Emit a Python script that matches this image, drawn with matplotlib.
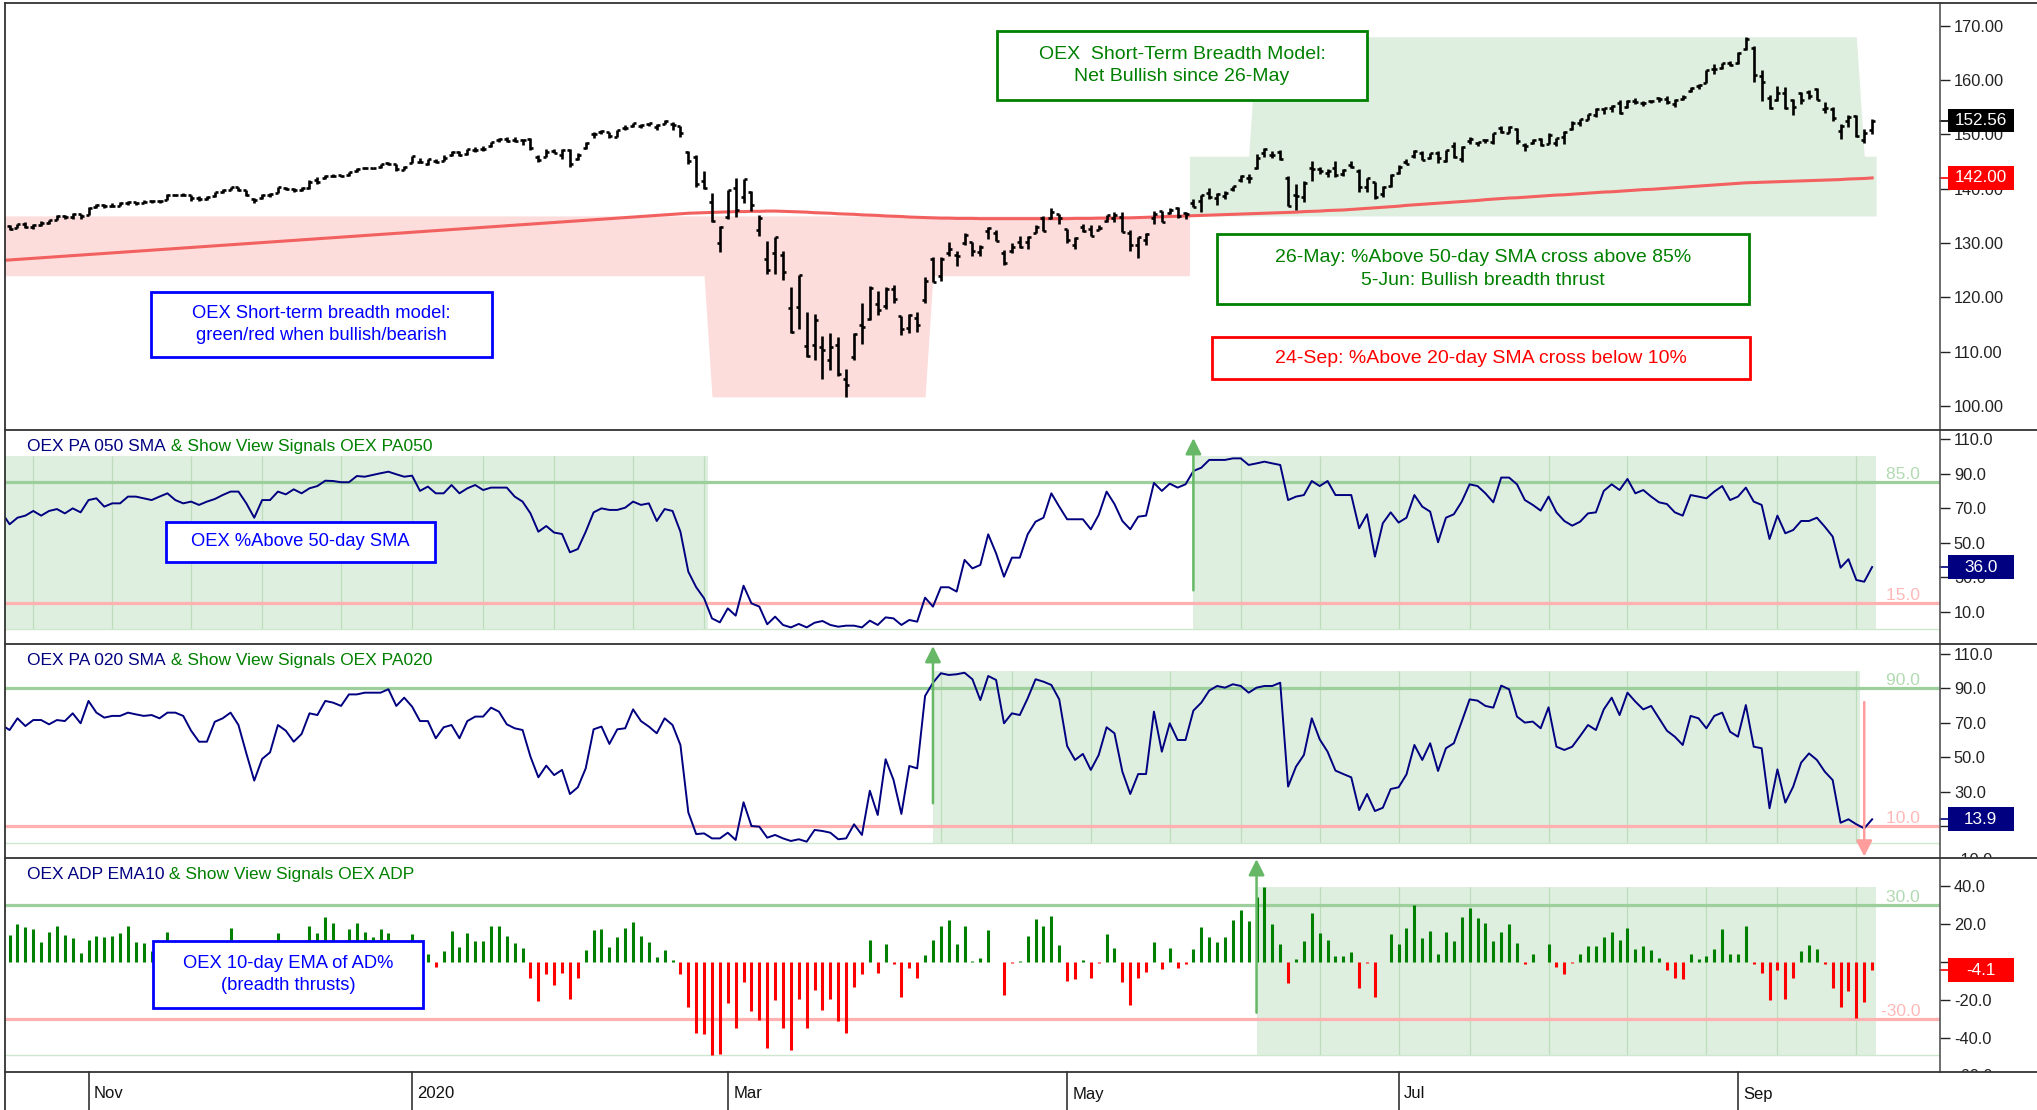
import numpy as np
import pandas as pd
import matplotlib
matplotlib.use("Agg")
import matplotlib.pyplot as plt
from matplotlib.collections import LineCollection
from matplotlib.lines import Line2D
from matplotlib.patches import Rectangle
from matplotlib.transforms import blended_transform_factory, Bbox, TransformedBbox

plt.rcParams['font.family'] = ['Liberation Sans', 'DejaVu Sans']

# trading calendar of the chart (OEX daily bars)
holidays = ['2019-11-28', '2019-12-25', '2020-01-01', '2020-01-20', '2020-02-17',
            '2020-04-10', '2020-05-25', '2020-07-03', '2020-09-07']
dates = pd.bdate_range('2019-10-17', '2020-09-25', freq='C', holidays=holidays)

# OEX price bars (scaled /10)
opens = [132.8, 133.1, 132.8, 133.5, 133.0, 133.4, 133.7, 134.3, 134.9, 134.8, 135.3,
         135.2, 136.6, 137.0, 136.8, 136.9, 137.3, 137.6, 137.4, 137.7, 137.7, 138.0, 138.9, 138.9, 138.8, 138.3, 138.2, 138.6, 139.4, 139.8, 140.3,
         139.7, 138.2, 138.3, 138.8, 139.3, 140.2, 139.9, 139.7, 140.2, 141.7, 141.9, 142.4, 142.5, 142.5, 143.2, 143.8, 143.9, 144.0, 144.7, 144.6, 143.5,
         144.8, 145.0, 144.6, 145.2, 145.2, 146.2, 146.7, 146.4, 147.2, 147.3, 147.8, 148.9, 149.1, 148.9, 148.9, 149.2, 145.9, 145.9, 147.0, 146.2, 147.2,
         145.5, 147.6, 150.0, 150.4, 150.4, 149.6, 151.2, 151.5, 151.5, 151.9, 151.4, 151.9, 152.0, 151.5, 146.8, 145.9, 141.4, 137.5, 130.0,
         134.8, 140.2, 138.4, 139.4, 132.5, 127.0, 128.2, 127.8, 118.0, 118.2, 111.0, 111.2, 110.8, 108.5, 111.2, 105.0, 109.0, 115.0, 116.0, 118.8, 118.5, 121.5,
         116.6, 114.4, 116.2, 119.5, 127.0, 124.0, 128.2, 127.8, 130.0, 130.2, 128.3, 132.2, 131.8, 128.2, 128.5, 130.2, 130.2, 131.8, 134.6, 134.7, 135.3,
         132.6, 129.6, 133.0, 132.6, 132.4, 134.0, 134.6, 134.8, 131.8, 129.6, 130.6, 134.6, 135.9, 135.6, 136.5, 135.6, 137.3, 137.8, 139.2, 138.3,
         138.6, 139.9, 141.6, 142.0, 143.8, 146.6, 146.2, 146.7, 142.0, 138.8, 138.5, 143.8, 143.6, 142.9, 143.9, 142.7, 144.3, 143.3, 140.3, 141.2, 139.0, 140.6,
         142.9, 144.9, 146.0, 146.5, 145.6, 146.6, 145.2, 147.9, 145.5, 148.8, 148.5, 148.9, 148.7, 151.2, 150.3, 151.0, 148.0, 148.5, 149.1, 148.3, 148.5, 149.5,
         151.0, 152.1, 152.7, 153.6, 154.6, 154.9, 155.8, 155.0, 156.1, 155.8, 156.1, 156.7, 156.5, 155.6, 156.5, 158.0, 158.9, 159.5, 162.0, 162.3, 163.2,
         163.1, 165.8, 166.0, 160.7, 156.8, 156.4, 157.7, 156.3, 157.7, 157.8, 158.3, 154.6, 154.7, 150.6, 152.5, 153.4, 148.9, 150.9]
highs = [133.3, 133.3, 133.6, 133.8, 133.5, 134.0, 134.3, 135.1, 135.1, 135.5, 135.4,
         136.6, 137.2, 137.2, 137.3, 137.6, 137.7, 137.6, 137.9, 137.9, 138.0, 139.0, 139.1, 139.2, 138.8, 138.6, 138.7, 139.5, 139.9, 140.4, 140.3,
         139.8, 138.3, 139.0, 139.3, 140.4, 140.4, 140.2, 140.3, 141.6, 142.2, 142.5, 142.7, 142.6, 143.1, 143.8, 144.0, 143.9, 144.6, 144.9, 144.6, 144.2,
         146.0, 145.6, 145.4, 145.5, 146.3, 146.9, 147.0, 147.3, 147.7, 147.8, 148.6, 149.3, 149.5, 149.5, 149.2, 149.3, 146.2, 147.3, 147.4, 147.3, 147.3,
         146.6, 148.7, 150.4, 150.8, 150.4, 150.9, 151.8, 152.2, 152.0, 152.2, 152.0, 152.6, 152.3, 151.5, 146.9, 146.2, 143.2, 139.3, 133.2,
         139.8, 141.9, 141.8, 139.6, 135.2, 130.3, 131.2, 128.6, 121.9, 124.2, 117.4, 117.0, 112.9, 113.5, 112.8, 106.8, 113.4, 119.0, 122.1, 121.1, 121.9, 122.3,
         116.6, 117.0, 117.3, 123.7, 127.4, 127.5, 130.2, 128.6, 131.8, 130.2, 129.7, 133.0, 132.5, 128.7, 130.1, 131.4, 131.3, 133.4, 135.0, 136.5, 135.4,
         132.6, 131.1, 133.6, 133.3, 133.3, 135.2, 135.7, 135.8, 132.4, 131.2, 131.8, 135.9, 136.0, 136.5, 136.6, 135.7, 138.1, 138.8, 140.2, 139.3,
         139.6, 140.6, 142.5, 142.8, 146.4, 147.5, 147.0, 147.1, 142.4, 140.8, 141.4, 145.1, 144.0, 143.6, 145.1, 143.7, 145.1, 143.6, 142.0, 141.3, 140.5, 142.8,
         144.3, 145.5, 147.2, 146.9, 146.6, 146.9, 147.2, 148.7, 147.8, 149.6, 148.7, 149.2, 150.3, 151.6, 151.5, 151.2, 148.4, 149.2, 149.3, 150.2, 149.4, 150.6,
         152.4, 152.9, 153.8, 154.8, 154.9, 155.4, 156.3, 156.4, 156.8, 156.2, 156.4, 156.9, 157.0, 156.5, 157.2, 158.8, 159.2, 161.9, 162.9, 163.2, 163.5,
         165.2, 167.9, 166.3, 161.9, 157.3, 158.9, 158.8, 156.6, 157.8, 158.1, 158.6, 155.9, 155.0, 151.9, 153.5, 153.6, 151.0, 152.8]
lows = [132.6, 132.4, 132.7, 132.8, 132.6, 133.2, 133.6, 134.2, 134.5, 134.5, 134.4,
        135.1, 136.5, 136.5, 136.6, 136.9, 137.0, 137.1, 137.3, 137.3, 137.4, 137.9, 138.6, 138.6, 137.8, 137.7, 137.9, 138.5, 139.3, 139.7, 139.6,
        138.6, 137.4, 138.1, 138.5, 139.2, 139.8, 139.5, 139.6, 140.0, 140.9, 141.8, 142.2, 142.1, 142.4, 143.1, 143.6, 143.6, 143.9, 144.3, 143.3, 143.4,
        144.7, 144.7, 144.4, 144.8, 145.1, 146.1, 146.1, 146.3, 146.8, 147.0, 147.7, 148.7, 148.6, 148.7, 148.1, 147.2, 145.0, 145.8, 146.5, 145.5, 144.0,
        145.3, 147.4, 149.3, 150.1, 149.3, 149.5, 150.9, 151.4, 151.2, 151.6, 150.9, 151.9, 150.9, 149.6, 144.6, 140.4, 139.9, 133.9, 128.4,
        134.5, 134.8, 137.4, 135.9, 131.4, 124.4, 124.4, 123.2, 113.5, 114.2, 109.0, 108.4, 104.9, 106.7, 105.6, 101.7, 108.5, 111.5, 115.8, 116.7, 117.8, 119.0,
        113.1, 113.5, 113.6, 118.9, 122.8, 123.0, 127.6, 125.7, 129.6, 127.6, 127.7, 130.8, 130.3, 126.0, 128.2, 129.1, 129.0, 131.8, 132.2, 134.5, 133.6,
        130.1, 129.0, 132.0, 131.3, 132.4, 133.8, 133.8, 132.0, 128.6, 127.3, 129.6, 133.5, 133.9, 135.3, 134.6, 134.4, 136.6, 135.7, 138.2, 137.0,
        138.2, 139.6, 141.2, 141.0, 143.6, 145.9, 145.6, 145.3, 136.8, 136.1, 137.6, 141.5, 142.8, 142.1, 142.2, 142.3, 143.8, 139.5, 139.4, 138.2, 138.4, 140.4,
        142.8, 144.5, 145.6, 145.3, 145.4, 144.8, 144.9, 145.7, 144.9, 148.2, 147.8, 148.4, 148.2, 150.2, 150.2, 148.3, 146.9, 148.3, 147.9, 148.2, 147.9, 148.3,
        150.9, 151.6, 152.6, 153.3, 153.8, 154.2, 153.8, 154.9, 155.6, 155.3, 155.8, 156.0, 155.7, 155.1, 156.3, 157.8, 158.3, 159.4, 161.2, 162.0, 162.6,
        162.9, 165.5, 159.7, 156.1, 154.6, 156.2, 154.6, 153.6, 155.7, 156.5, 156.3, 153.9, 152.4, 149.2, 151.3, 149.5, 148.5, 150.1]
closes = [133.1, 132.6, 133.5, 133.0, 133.4, 133.7, 134.2, 134.9, 134.8, 135.3, 134.9,
          136.5, 137.0, 136.8, 136.9, 137.3, 137.6, 137.4, 137.6, 137.7, 137.8, 138.9, 138.9, 138.8, 138.3, 138.1, 138.4, 139.4, 139.8, 140.3, 139.8,
          138.9, 138.0, 138.8, 139.0, 140.3, 139.9, 139.7, 140.1, 141.3, 141.3, 142.3, 142.4, 142.3, 143.0, 143.7, 143.8, 143.8, 144.5, 144.5, 143.7, 144.1,
          146.0, 144.9, 145.4, 145.0, 145.7, 146.7, 146.3, 147.3, 147.1, 147.4, 148.6, 149.2, 148.8, 148.8, 149.0, 147.6, 145.3, 146.8, 146.6, 147.1, 144.5,
          146.2, 148.4, 150.1, 150.6, 149.7, 150.8, 151.1, 152.1, 151.8, 152.1, 151.7, 152.4, 151.8, 150.2, 145.2, 140.8, 140.2, 134.0, 132.9,
          139.7, 136.1, 141.8, 137.0, 134.6, 125.0, 131.1, 124.7, 113.6, 124.2, 109.3, 115.8, 110.3, 110.8, 106.0, 103.8, 113.3, 114.6, 121.8, 117.7, 121.6, 119.7,
          114.1, 116.7, 115.0, 123.1, 122.9, 127.0, 128.9, 127.6, 131.5, 128.6, 129.3, 132.8, 130.4, 126.4, 129.3, 129.3, 131.1, 133.0, 132.3, 135.8, 134.6,
          130.5, 131.0, 132.2, 131.3, 132.8, 135.1, 135.1, 132.0, 129.7, 131.2, 131.7, 135.3, 133.9, 136.1, 135.0, 135.4, 136.7, 138.8, 138.5, 139.1,
          139.3, 140.5, 142.4, 141.9, 145.6, 147.4, 146.2, 145.5, 136.9, 138.7, 141.1, 143.7, 143.2, 143.3, 142.5, 143.4, 144.0, 140.3, 141.9, 138.4, 140.4, 142.6,
          144.0, 144.6, 146.9, 145.3, 146.5, 145.6, 147.1, 145.8, 147.7, 149.1, 148.6, 149.0, 150.2, 150.5, 151.4, 148.8, 147.9, 149.0, 148.0, 149.9, 149.3, 150.5,
          152.2, 152.8, 153.7, 154.7, 154.8, 155.3, 154.0, 156.2, 155.9, 155.8, 156.2, 156.6, 155.9, 156.4, 156.9, 158.5, 159.1, 161.8, 162.0, 163.1, 162.8,
          165.0, 167.6, 161.0, 159.7, 154.8, 157.7, 154.9, 155.0, 156.3, 157.1, 156.4, 154.8, 153.0, 151.6, 153.3, 149.7, 150.2, 152.56]
sma200 = [126.8, 126.9, 127.0, 127.1, 127.2, 127.3, 127.4, 127.5, 127.6, 127.7, 127.8, 127.9, 128.0, 128.1, 128.2,
          128.3, 128.4, 128.5, 128.6, 128.7, 128.8, 128.9, 129.0, 129.1, 129.2, 129.3, 129.4, 129.5, 129.6, 129.7,
          129.8, 129.9, 130.0, 130.1, 130.2, 130.3, 130.4, 130.5, 130.6, 130.7, 130.8, 130.9, 131.0, 131.1, 131.2,
          131.3, 131.4, 131.5, 131.6, 131.7, 131.8, 131.9, 132.0, 132.1, 132.2, 132.3, 132.4, 132.5, 132.6, 132.7,
          132.8, 132.9, 133.0, 133.1, 133.2, 133.3, 133.4, 133.5, 133.6, 133.7, 133.8, 133.9, 134.0, 134.1, 134.2,
          134.3, 134.4, 134.5, 134.6, 134.7, 134.8, 134.9, 135.0, 135.1, 135.2, 135.3, 135.4, 135.5, 135.55,
          135.6, 135.65, 135.7, 135.75, 135.8, 135.8, 135.85, 135.85, 135.9, 135.9,
          135.85, 135.8, 135.75, 135.7, 135.6, 135.55, 135.5, 135.4, 135.35, 135.3, 135.2, 135.15, 135.1, 135.0, 134.95,
          134.9, 134.8, 134.75, 134.7, 134.65,
          134.6, 134.6, 134.55, 134.55, 134.55, 134.5, 134.5, 134.5, 134.5, 134.5, 134.5, 134.5, 134.5, 134.5, 134.5,
          134.5, 134.5, 134.55, 134.55, 134.55, 134.6, 134.6, 134.6, 134.65, 134.65, 134.7,
          134.75, 134.8, 134.85, 134.9, 134.95, 135.0, 135.05, 135.1, 135.15, 135.2, 135.25, 135.3, 135.35, 135.4, 135.45,
          135.5, 135.55, 135.6, 135.65, 135.7,
          135.8, 135.85, 135.9, 136.0, 136.05, 136.1, 136.2,
          136.3, 136.4, 136.5, 136.6, 136.7, 136.8, 136.95, 137.05, 137.15, 137.25, 137.35, 137.45, 137.55, 137.65, 137.75,
          137.85, 138.0,
          138.1, 138.2, 138.3, 138.35, 138.45, 138.55, 138.65, 138.75, 138.85, 138.9, 139.0, 139.1, 139.2, 139.3, 139.4,
          139.45, 139.55, 139.65, 139.75, 139.85, 139.9, 140.0, 140.1, 140.2,
          140.3, 140.4, 140.5, 140.6, 140.7, 140.8, 140.9, 141.0, 141.1,
          141.15, 141.2, 141.25, 141.3, 141.35, 141.4, 141.45, 141.5, 141.55, 141.6, 141.65, 141.7, 141.8, 141.85, 141.9, 142.0]

# % of OEX stocks above 50-day / 20-day SMA
pa050 = [67.6, 60.7, 64.5, 65.7, 68.4, 65.7, 68.4, 69.5, 67.0, 69.9, 67.6, 74.7, 75.7, 70.9, 72.8, 72.8, 76.7, 76.7, 75.7, 74.7,
         76.7, 78.6, 74.7, 72.8, 73.8, 71.9, 73.8, 75.3, 77.6, 79.6, 79.6, 72.8, 64.5, 74.7, 74.7, 79.6, 78.0, 80.9, 78.6, 81.5,
         82.8, 85.9, 85.7, 85.0, 85.0, 88.6, 88.2, 89.2, 90.2, 91.1, 89.6, 88.2, 88.8, 80.0, 82.5, 78.6, 78.6, 83.4, 78.6, 81.5,
         83.4, 80.5, 81.9, 81.9, 81.9, 76.7, 73.8, 67.0, 56.4, 59.7, 55.9, 55.1, 44.5, 46.4, 56.4, 67.6, 69.9, 69.0, 69.0, 70.3,
         73.8, 71.9, 72.8, 62.6, 69.5, 68.4, 56.4, 33.3, 24.3, 17.9, 6.3, 4.0, 12.1, 7.9, 25.2, 15.0, 13.1, 2.9, 7.3, 2.5,
         1.1, 3.1, 1.1, 3.8, 4.8, 2.5, 1.5, 2.1, 2.1, 1.1, 5.0, 2.5, 6.9, 6.3, 2.5, 5.4, 4.4, 18.3, 13.1, 24.3,
         24.3, 21.8, 40.1, 35.2, 37.2, 54.9, 43.9, 30.4, 41.4, 41.4, 54.9, 62.2, 64.5, 78.6, 70.9, 63.6, 63.6, 63.6, 57.8, 66.1,
         79.6, 72.4, 62.6, 57.8, 65.1, 65.7, 84.6, 80.0, 84.2, 81.9, 83.8, 91.5, 93.4, 97.9, 97.9, 97.9, 98.8, 98.8, 95.0, 95.9,
         96.9, 95.9, 95.0, 74.7, 76.7, 77.6, 85.7, 82.8, 85.7, 77.6, 77.6, 77.6, 58.4, 66.5, 42.0, 61.3, 67.6, 61.7, 64.5, 77.6,
         70.9, 68.0, 50.3, 64.5, 66.5, 73.8, 83.8, 82.8, 78.6, 73.4, 87.7, 87.7, 83.8, 74.7, 71.9, 68.6, 76.7, 67.6, 62.6, 59.9,
         62.2, 67.0, 67.6, 80.0, 83.8, 80.5, 86.9, 78.6, 80.5, 76.7, 73.4, 72.4, 67.6, 65.7, 77.6, 76.7, 75.7, 79.6, 82.8, 74.7,
         76.7, 81.9, 73.8, 71.9, 52.2, 65.7, 55.5, 57.4, 62.6, 62.6, 64.5, 59.3, 53.6, 35.6, 40.5, 28.5, 27.5, 36.0]
pa020 = [68.7, 65.8, 72.6, 68.1, 71.6, 71.6, 69.1, 71.6, 71.0, 75.5, 69.7, 82.7, 75.9, 73.0, 74.0, 74.0, 75.9, 74.9, 74.0, 74.5,
         72.6, 75.9, 75.9, 74.0, 65.4, 59.0, 59.0, 70.6, 72.6, 75.9, 68.7, 52.2, 36.4, 49.0, 52.8, 68.7, 65.4, 59.0, 63.5, 75.5,
         74.5, 82.7, 81.7, 79.8, 86.5, 86.5, 87.5, 87.5, 87.5, 89.5, 79.8, 84.6, 79.4, 71.0, 71.0, 61.0, 67.4, 68.7, 61.0, 71.0,
         73.6, 73.6, 78.8, 76.5, 69.1, 66.8, 65.8, 50.3, 38.3, 45.1, 39.6, 42.6, 28.6, 32.5, 43.5, 66.2, 67.8, 57.7, 66.2, 66.8,
         77.8, 71.0, 67.8, 63.9, 72.6, 68.7, 57.1, 17.9, 5.3, 5.7, 2.8, 2.8, 6.1, 1.9, 23.8, 10.0, 9.6, 3.2, 4.8, 2.8,
         1.3, 2.3, 0.9, 7.7, 7.1, 6.1, 2.3, 2.8, 11.0, 4.8, 30.5, 16.4, 48.8, 36.8, 17.0, 44.9, 43.5, 85.6, 93.3, 98.8,
         97.8, 98.2, 99.1, 95.3, 83.2, 97.2, 94.9, 69.7, 75.5, 74.5, 84.2, 95.3, 93.9, 92.0, 83.6, 56.5, 48.4, 51.9, 42.6, 51.3,
         67.4, 63.9, 41.6, 28.6, 40.2, 40.2, 76.5, 53.2, 69.7, 60.0, 60.0, 77.1, 81.7, 88.7, 91.4, 90.4, 92.4, 91.4, 87.5, 90.4,
         91.4, 91.4, 93.3, 32.9, 44.5, 51.3, 72.6, 60.4, 53.2, 42.2, 40.2, 38.3, 19.3, 28.6, 18.7, 20.6, 31.5, 32.5, 40.0, 57.1,
         48.4, 58.1, 42.0, 55.2, 58.1, 70.7, 83.6, 82.9, 79.8, 78.8, 91.6, 89.5, 73.6, 70.1, 70.7, 66.8, 79.0, 56.1, 54.2, 56.1,
         62.3, 68.7, 65.8, 77.8, 84.6, 74.5, 87.5, 82.3, 77.8, 79.8, 72.6, 65.4, 61.9, 57.1, 74.0, 72.6, 66.8, 74.0, 75.9, 64.8,
         61.9, 80.3, 56.1, 55.2, 20.3, 42.9, 23.6, 32.9, 46.8, 52.2, 48.4, 41.6, 36.7, 11.9, 13.9, 11.0, 8.6, 13.9]

# OEX advance-decline percent, 10-day EMA
adp_ema10 = [20.5, 14.4, 20.0, 18.8, 17.5, 10.5, 16.1, 19.1, 14.4, 13.0, 4.7, 11.8, 13.9, 13.5, 14.0, 15.3, 19.1, 10.9, 10.0,
             6.0, 8.5, 15.8, 9.0, 5.5, 3.0, -2.0, 4.5, 7.0, 9.5, 17.9, 8.0, -4.0, -9.0, 2.5, 6.0, 15.6, 9.0, 7.5, 10.0,
             19.3, 15.3, 23.7, 20.5, 10.5, 17.5, 20.9, 16.1, 13.5, 17.5, 15.6, 8.0, 9.5, 14.7, 6.0,
             4.2, -2.3, 6.0, 16.5, 8.2, 15.6, 11.2, 11.2, 19.3, 19.3, 13.9, 10.0, 7.7,
             -8.1, -20.4, -6.3, -11.9, -5.8, -19.3, -8.4,
             6.5, 17.0, 17.5, 8.2, 13.5, 17.9, 21.4, 14.0, 10.5, 3.0, 6.5, 1.2,
             -6.3, -23.3, -37.4, -37.9, -48.8, -48.4, -21.6, -34.4, -10.2, -25.6, -30.4, -44.9, -19.8, -34.4, -46.1, -19.3,
             -34.4, -14.6, -25.1, -19.3, -30.7, -37.0, -12.8, -6.3,
             11.8, -5.8, 9.5, -1.1, -18.1, -2.8, -8.1,
             3.9, 12.0, 19.3, 22.3, 9.5, 19.3, 0.7, 2.1, 17.0,
             0.4, -17.2, -0.5, 0.5, 13.9, 22.8, 19.3, 24.6, 9.1, -9.8, -8.8, 1.1, -8.4, -0.3, 14.7, 7.4, -10.2, -22.5, -8.1, -5.3,
             10.5, -3.7, 7.4, -3.2, -0.9, 7.0, 18.8, 13.5, 10.5, 13.5, 22.3, 27.5, 21.9, 34.6, 39.8, 20.0, 9.5, -10.7, 1.8, 11.2,
             25.8, 15.6, 11.8, 3.3, 3.5, 5.3, -13.7, -0.5, -18.1, 0.2, 15.1, 9.5, 17.9, 30.2, 12.6, 16.5, 4.4, 16.1, 11.2, 24.0,
             28.8, 23.5, 20.5, 11.2, 15.8, 20.2, 10.0, -0.9, 4.2, 0.2, 9.5, -2.3, -6.3, -0.5, 4.4, 8.8, 8.8, 13.5, 16.1, 11.8,
             18.2, 7.0, 8.8, 6.5, 2.5, -4.0, -8.4, -8.8, 4.2, 1.8, 3.5, 7.0, 17.4, 4.6, 4.4, 19.3, -0.9, -5.8, -19.8, -4.0,
             -19.3, -8.1, 6.0, 9.1, 7.0, -1.1, -13.3, -23.3, -15.1, -29.5, -20.7, -4.1]

# breadth model state shown behind the price bars
model_start = ['2019-10-17', '2020-02-27', '2020-04-07', '2020-05-26', '2020-06-05', '2020-09-24']
model_bull = [False, False, False, True, True, True]
model_low = [124.0, 101.7, 124.0, 135.0, 135.0, 135.0]
model_high = [135.0, 135.0, 135.0, 146.0, 168.0, 146.0]

# indicator signals: (date, +1 up / -1 down, arrow drawn)
pa050_signals = [('2020-02-27', -1, False), ('2020-05-26', 1, True)]
pa020_signals = [('2020-04-07', 1, True), ('2020-09-24', -1, True)]
adp_signals = [('2020-06-05', 1, True)]

n = len(dates)
for arr in (opens, highs, lows, closes, sma200, pa050, pa020, adp_ema10):
    assert len(arr) == n, (len(arr), n)
x = np.arange(n)

NAVY = '#000080'
GTXT = '#008000'
GFILL = '#dfefdf'
RFILL = '#fddcdc'
GGRID = '#bcdcbc'

W, H = 2037, 1110
fig = plt.figure(figsize=(W / 100, H / 100), dpi=100)
fig.patch.set_facecolor('white')
L, R = 4.5, 1940
LBL_X = 1.0078      # tick label left edge, axes fraction


def px_axes(top, bottom):
    a = fig.add_axes([L / W, 1 - bottom / H, (R - L) / W, (bottom - top) / H])
    for s in a.spines.values():
        s.set_visible(False)
    a.set_xlim(0.355, 245.6)
    a.set_xticks([])
    a.yaxis.tick_right()
    a.tick_params(axis='y', direction='out', length=7, width=1, pad=3,
                  labelsize=11.8, colors='#222222')
    a.px_h = bottom - top
    return a


ax1 = px_axes(3, 430)
ax2 = px_axes(430, 644)
ax3 = px_axes(644, 858)
ax4 = px_axes(858, 1072)

# frame lines
for yy in [2.5, 430, 644, 858, 1072]:
    fig.add_artist(Line2D([L / W, 1], [1 - yy / H] * 2, color='#333333', lw=1.3, zorder=20))
fig.add_artist(Line2D([L / W] * 2, [0, 1 - 2.5 / H], color='#333333', lw=1.3))
fig.add_artist(Line2D([R / W] * 2, [1 - 1072 / H, 1 - 2.5 / H], color='#555555', lw=1.2))


def set_scale(ax, ylim, ticks, fmt, tag_value, extra=None):
    ax.set_ylim(*ylim)
    ppu = ax.px_h / (ylim[1] - ylim[0])
    ax.set_yticks(ticks)
    # labels that sit right under the value tag are hidden by it
    ax.set_yticklabels(['' if abs(t - tag_value) * ppu < 9 else fmt % t for t in ticks])
    if extra is not None:
        # half-visible label at the panel edge
        tr = blended_transform_factory(ax.transAxes, ax.transData)
        t = ax.text(LBL_X, extra, fmt % extra, transform=tr, ha='left', va='center',
                    fontsize=11.8, color='#222222')
        t.set_clip_box(TransformedBbox(Bbox([[0, 0], [1.1, 1]]), ax.transAxes))
        t.set_clip_on(True)
    return ppu


def value_tag(ax, y, text, color, ppu):
    tr = blended_transform_factory(ax.transAxes, ax.transData)
    hh = 11.8 / ppu
    ax.add_patch(Rectangle((1.0040, y - hh), 0.0342, 2 * hh, transform=tr, fc=color,
                           ec='none', zorder=9, clip_on=False))
    ax.plot([1.0, 1.0040], [y, y], transform=tr, color=color, lw=1.2, clip_on=False,
            zorder=9)
    ax.text(1.0211, y, text, transform=tr, ha='center', va='center', color='white',
            fontsize=12.3, zorder=10, clip_on=False)


# ---- price panel
idx_start = [dates.get_loc(pd.Timestamp(d)) for d in model_start]
lo_bar = np.zeros(n)
hi_bar = np.zeros(n)
bull_bar = np.zeros(n, dtype=bool)
for k, s in enumerate(idx_start):
    e = idx_start[k + 1] if k + 1 < len(idx_start) else n
    lo_bar[s:e] = model_low[k]
    hi_bar[s:e] = model_high[k]
    bull_bar[s:e] = model_bull[k]
i = 0
while i < n:
    j = i
    while j + 1 < n and bull_bar[j + 1] == bull_bar[i]:
        j += 1
    xs = np.concatenate([[i - 0.5], np.arange(i, j + 1), [j + 0.5]])
    lo = np.concatenate([[lo_bar[i]], lo_bar[i:j + 1], [lo_bar[j]]])
    hi = np.concatenate([[hi_bar[i]], hi_bar[i:j + 1], [hi_bar[j]]])
    ax1.fill_between(xs, lo, hi, color=GFILL if bull_bar[i] else RFILL, lw=0, zorder=0)
    i = j + 1

ax1.plot(x, sma200, color='#f26060', lw=2.2, zorder=2)

tk = 0.38
segs = []
for i in range(n):
    segs.append([(i, lows[i]), (i, highs[i])])
    segs.append([(i - tk, opens[i]), (i, opens[i])])
    segs.append([(i, closes[i]), (i + tk, closes[i])])
ax1.add_collection(LineCollection(segs, colors='black', linewidths=1.9, zorder=3))
ppu1 = set_scale(ax1, (95.6, 174.2), np.arange(100, 171, 10), '%.2f', closes[-1])


def add_box(ax, x0, y0, x1, y1, text, color, size):
    ax.add_patch(Rectangle((x0, y0), x1 - x0, y1 - y0, transform=ax.transAxes,
                           fc='white', ec=color, lw=2.0, zorder=6, clip_on=False))
    ax.text((x0 + x1) / 2, (y0 + y1) / 2, text, transform=ax.transAxes, ha='center',
            va='center', color=color, fontsize=size, linespacing=1.45, zorder=7)


add_box(ax1, 0.0757, 0.171, 0.2519, 0.323,
        'OEX Short-term breadth model:\ngreen/red when bullish/bearish', '#0000ff', 13.2)
add_box(ax1, 0.5128, 0.7728, 0.7040, 0.9344,
        'OEX  Short-Term Breadth Model:\nNet Bullish since 26-May', GTXT, 14)
add_box(ax1, 0.6265, 0.2951, 0.9013, 0.4590,
        '26-May: %Above 50-day SMA cross above 85%\n5-Jun: Bullish breadth thrust', GTXT, 14)
add_box(ax1, 0.6239, 0.1194, 0.9018, 0.2178,
        '24-Sep: %Above 20-day SMA cross below 10%', '#ff0000', 14)

value_tag(ax1, closes[-1], '%.2f' % closes[-1], 'black', ppu1)
value_tag(ax1, sma200[-1], '%.2f' % sma200[-1], '#ff0000', ppu1)

# ---- indicator panels
grid_idx = dates.searchsorted(pd.date_range('2019-10-23', '2020-09-25', freq='14D'))


def green_spans(signals, bull0):
    spans = []
    start = -0.5 if bull0 else None
    for d, direction, _ in signals:
        k = dates.get_loc(pd.Timestamp(d))
        if direction > 0 and start is None:
            start = k
        elif direction < 0 and start is not None:
            spans.append((start, k - 0.5))
            start = None
    if start is not None:
        spans.append((start, n - 0.5))
    return spans


def indicator(ax, title, sig_name, signals, bull0, lo, hi, upper, lower,
              arrow_up, arrow_dn):
    for a, b in green_spans(signals, bull0):
        ax.fill_between([a, b], lo, hi, color=GFILL, lw=0, zorder=0)
        for g in grid_idx:
            if a < g < b:
                ax.vlines(g, lo, hi, color=GGRID, lw=0.9, zorder=0.5)
    ax.axhline(lo, color='#cfe6cf', lw=1.0, zorder=0.6)
    ax.axhline(upper, color='#9dcf9d', lw=2.3, zorder=1)
    ax.axhline(lower, color='#ffb0b0', lw=2.3, zorder=1)
    ax.text(243.7, upper, '%.1f ' % upper, ha='right', va='bottom', color='#b2dab2',
            fontsize=12.5, zorder=1)
    ax.text(243.7, lower, '%.1f ' % lower, ha='right', va='bottom', color='#ffb8b8',
            fontsize=12.5, zorder=1)
    for d, direction, show in signals:
        if not show:
            continue
        k = dates.get_loc(pd.Timestamp(d))
        if direction > 0:
            y0, y1, col = arrow_up[0], arrow_up[1], '#66b866'
        else:
            y0, y1, col = arrow_dn[0], arrow_dn[1], '#ff9c9c'
        ax.annotate('', xy=(k, y1), xytext=(k, y0),
                    arrowprops=dict(arrowstyle='-|>', color=col, lw=1.8,
                                    mutation_scale=24, shrinkA=0, shrinkB=0), zorder=4)
    t1 = ax.text(0.0116, 0.925, title, transform=ax.transAxes, color=NAVY,
                 fontsize=12.5, va='center', ha='left', zorder=8)
    ax.annotate(' & Show View Signals ' + sig_name, xy=(1, 0), xycoords=t1,
                va='bottom', ha='left', color=GTXT, fontsize=12.5, zorder=8)


indicator(ax2, 'OEX PA 050 SMA', 'OEX PA050', pa050_signals, True, 0, 100,
          85, 15, (22.5, 110.5), None)
ax2.plot(x, pa050, color=NAVY, lw=1.4, zorder=3)
ppu2 = set_scale(ax2, (-8.5, 115.2), np.arange(10, 111, 20), '%.1f', pa050[-1])
add_box(ax2, 0.0834, 0.3832, 0.2222, 0.5701, 'OEX %Above 50-day SMA', '#0000ff', 13.2)
value_tag(ax2, pa050[-1], '%.1f' % pa050[-1], NAVY, ppu2)

indicator(ax3, 'OEX PA 020 SMA', 'OEX PA020', pa020_signals, False, 0, 100,
          90, 10, (23.2, 114.6), (82.0, -7.8))
ax3.plot(x, pa020, color=NAVY, lw=1.4, zorder=3)
ppu3 = set_scale(ax3, (-8.6, 115.8), np.arange(10, 111, 20), '%.1f', pa020[-1], extra=-10)
value_tag(ax3, pa020[-1], '%.1f' % pa020[-1], NAVY, ppu3)

adp = np.array(adp_ema10)
indicator(ax4, 'OEX ADP EMA10', 'OEX ADP', adp_signals, False, adp.min(), adp.max(),
          30, -30, (-26.5, 54.3), None)
ax4.vlines(x[adp >= 0], 0, adp[adp >= 0], color='#008000', lw=2.2, zorder=3)
ax4.vlines(x[adp < 0], 0, adp[adp < 0], color='#ff0000', lw=2.2, zorder=3)
ppu4 = set_scale(ax4, (-57.7, 54.9), np.arange(-40, 41, 20), '%.1f', adp[-1], extra=-60)
add_box(ax4, 0.0767, 0.2991, 0.2162, 0.6121, 'OEX 10-day EMA of AD%\n(breadth thrusts)',
        '#0000ff', 13.2)
value_tag(ax4, adp[-1], '%.1f' % adp[-1], '#ff0000', ppu4)

# ---- date strip under the bottom panel
trd = blended_transform_factory(ax4.transData, fig.transFigure)
for i in range(1, n):
    if dates[i].month != dates[i - 1].month and dates[i].month in (11, 1, 3, 5, 7, 9):
        lab = str(dates[i].year) if dates[i].month == 1 else dates[i].strftime('%b')
        ax4.plot([i, i], [0, 1 - 1072 / H], transform=trd, color='#333333', lw=1.2,
                 clip_on=False)
        ax4.text(i + 0.7, (H - 1094) / H, lab, transform=trd, ha='left', va='center',
                 fontsize=12, color='#111111')

fig.savefig('out.png', dpi=100)
